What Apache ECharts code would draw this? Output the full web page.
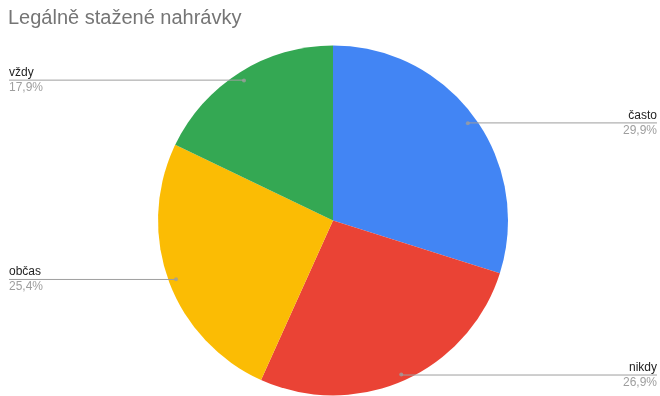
<!DOCTYPE html>
<html>
<head>
<meta charset="utf-8">
<script src="https://cdn.jsdelivr.net/npm/echarts@6/dist/echarts.min.js"></script>
<style>html,body{margin:0;padding:0;background:#fff}#c{width:660px;height:396px}</style>
</head>
<body>
<div id="c"></div>
<script>
const titleText = 'Legálně stažené nahrávky';
const categories = ['často', 'nikdy', 'občas', 'vždy'];
const values = [29.9, 26.9, 25.4, 17.9];
const colors = ['#4285F4', '#EA4335', '#FBBC04', '#34A853'];

const FONT = '"Liberation Sans", Arial, sans-serif';
const CX = 333, CY = 220.5, R = 175, DOT_R = 0.955, VIEW_LEFT = 6, LABEL_DY = 1.5;

const fmt = v => v.toFixed(1).replace('.', ',') + '%';
const total = values.reduce((a, b) => a + b, 0);
let acc = 0;
const dots = values.map(v => { const mid = acc + v / 2; acc += v; return [1, mid]; });

const chart = echarts.init(document.getElementById('c'));
chart.setOption({
  animation: false,
  title: {
    text: titleText, left: 3, top: 3,
    textStyle: { fontFamily: FONT, fontSize: 20, fontWeight: 'normal', color: '#757575' }
  },
  polar: { center: [CX, CY + LABEL_DY], radius: R * DOT_R },
  angleAxis: { type: 'value', min: 0, max: total, startAngle: 90, clockwise: true, show: false },
  radiusAxis: { type: 'value', min: 0, max: 1, show: false },
  series: [
    {
      type: 'pie', center: [CX, CY], radius: R, startAngle: 90, clockwise: true,
      left: 0, top: 0, right: 0, bottom: 0,
      data: categories.map((c, i) => ({ name: c, value: values[i], itemStyle: { color: colors[i] } })),
      label: { show: false }, labelLine: { show: false }, silent: true, z: 1
    },
    {
      type: 'pie', center: [CX - VIEW_LEFT, CY + LABEL_DY], radius: R * DOT_R, startAngle: 90, clockwise: true,
      left: VIEW_LEFT, top: 0, right: 0, bottom: 0,
      data: categories.map((c, i) => ({ name: c, value: values[i] })),
      itemStyle: { color: 'rgba(0,0,0,0)' },
      silent: true, z: 3, avoidLabelOverlap: true,
      label: {
        show: true, position: 'outer', alignTo: 'edge', edgeDistance: 3,
        distanceToLabelLine: -34,
        formatter: p => '{n|' + p.name + '}\n{p|' + fmt(p.value) + '}',
        rich: {
          n: { fontFamily: FONT, fontSize: 12, color: '#222222', lineHeight: 15 },
          p: { fontFamily: FONT, fontSize: 12, color: '#9E9E9E', lineHeight: 15 }
        }
      },
      labelLine: { show: true, length: 0.5, length2: 1, smooth: false,
        lineStyle: { color: '#9E9E9E', width: 1 } }
    },
    {
      type: 'scatter', coordinateSystem: 'polar', data: dots,
      symbol: 'circle', symbolSize: 4, itemStyle: { color: '#9E9E9E' }, silent: true, z: 4
    }
  ]
});
</script>
</body>
</html>
